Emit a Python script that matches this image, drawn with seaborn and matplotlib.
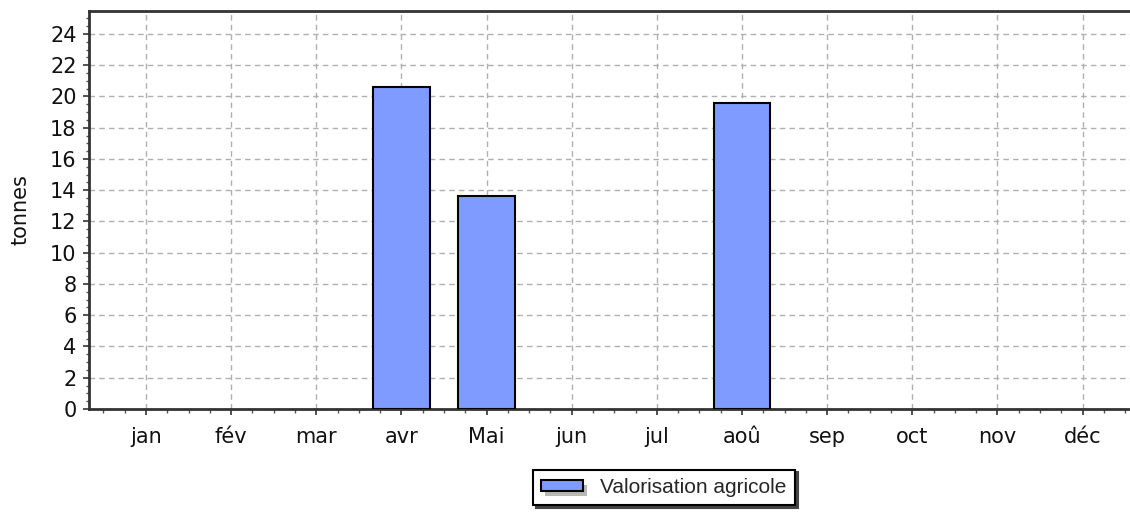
import matplotlib
matplotlib.use("Agg")
import matplotlib.pyplot as plt
import matplotlib.patches as mpatches
from matplotlib.legend_handler import HandlerBase
from matplotlib.ticker import MultipleLocator, FixedLocator
import seaborn as sns
import pandas as pd
import numpy as np

months = ["jan", "fév", "mar", "avr", "Mai", "jun", "jul", "aoû", "sep", "oct", "nov", "déc"]
values = [0, 0, 0, 20.6, 13.6, 0, 0, 19.6, 0, 0, 0, 0]
series_name = "Valorisation agricole"
y_label = "tonnes"
y_ticks = list(range(0, 25, 2))

sns.set_theme(style="white")
plt.rcParams["font.family"] = ["DejaVu Sans"]

bar_color = "#809BFF"
spine_color = "#333333"

fig = plt.figure(figsize=(11.3, 5.14), dpi=100)
ax = fig.add_axes([89 / 1130, 105 / 514, 1 - 89 / 1130 + 0.01, (409 - 11) / 514])

df = pd.DataFrame({"mois": months, "tonnes": values})
sns.barplot(data=df, x="mois", y="tonnes", color=bar_color, saturation=1,
            edgecolor="black", linewidth=1.5, width=0.66, ax=ax, zorder=3)
for p in ax.patches:
    if p.get_height() == 0:
        p.set_edgecolor("none")

ax.set_xlim(-0.67, 11.69)
ax.set_ylim(0, 25.47)
ax.set_yticks(y_ticks)
ax.yaxis.set_minor_locator(MultipleLocator(0.5))
ax.xaxis.set_minor_locator(FixedLocator(np.arange(-0.75, 11.8, 0.25)))

ax.grid(True, which="major", color="#b0b0b0", linestyle=(0, (4, 3)), linewidth=1.0, zorder=0)
ax.set_axisbelow(True)

for side in ["left", "bottom", "top"]:
    ax.spines[side].set_color(spine_color)
    ax.spines[side].set_linewidth(2.0)
ax.spines["right"].set_visible(False)

ax.tick_params(axis="both", which="major", direction="out", length=4, width=1.2,
               color=spine_color, labelsize=15, labelcolor="#111111")
ax.tick_params(axis="x", which="major", pad=9, bottom=True)
ax.tick_params(axis="y", which="major", pad=5, left=True)
ax.tick_params(axis="both", which="minor", direction="out", length=3, width=1.0, color="#555555")
ax.tick_params(axis="x", which="minor", bottom=True)
ax.tick_params(axis="y", which="minor", left=True, length=2)

ax.set_xlabel("")
ax.set_ylabel(y_label, fontsize=15, color="#111111", labelpad=14)


class ShadowPatchHandler(HandlerBase):
    def create_artists(self, legend, orig_handle, xdescent, ydescent, width, height, fontsize, trans):
        w, h = 30, 8
        x0 = -xdescent
        y0 = -ydescent + (height - h) / 2
        shadow = mpatches.Rectangle((x0 + 3, y0 - 3.5), w, h, facecolor="#b8b8b8", edgecolor="none", transform=trans)
        main = mpatches.Rectangle((x0, y0), w, h, facecolor=bar_color, edgecolor="black", linewidth=1.5, transform=trans)
        return [shadow, main]


handle = mpatches.Patch(facecolor=bar_color, edgecolor="black", label=series_name)
leg = fig.legend(handles=[handle], labels=[series_name], loc="center",
                 bbox_to_anchor=(664 / 1130, 1 - 487.5 / 514), frameon=True, fancybox=False,
                 shadow={"color": "#444444", "alpha": 1.0}, edgecolor="black",
                 prop={"family": "Liberation Sans", "size": 15},
                 handler_map={mpatches.Patch: ShadowPatchHandler()},
                 handlelength=2.25, handleheight=0.8, handletextpad=0.6,
                 borderpad=0.4, borderaxespad=0)
leg.get_frame().set_linewidth(1.5)
leg.get_frame().set_facecolor("white")

fig.savefig("out.png", dpi=100)
